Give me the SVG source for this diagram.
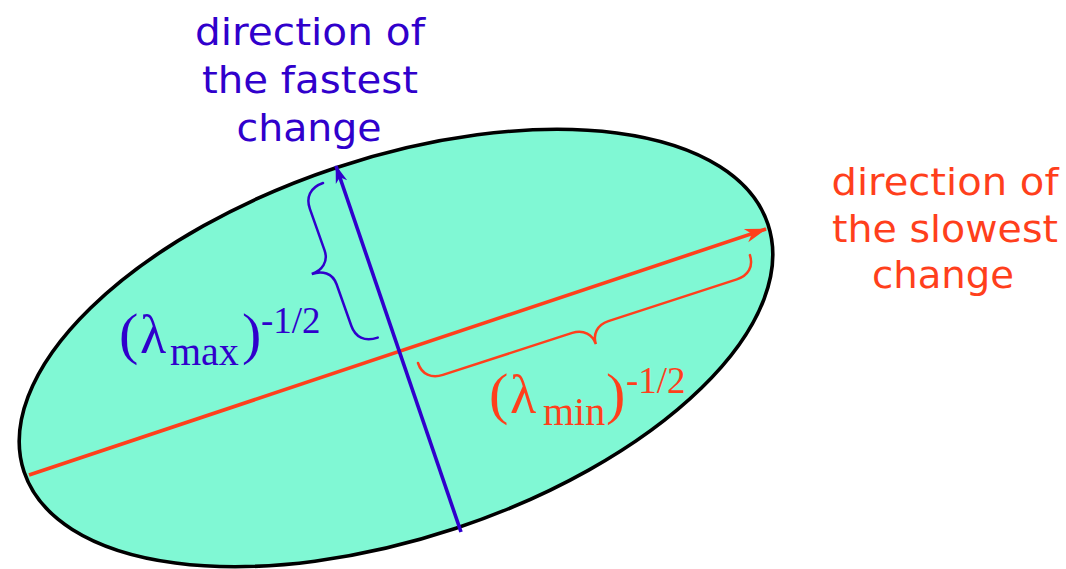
<svg xmlns="http://www.w3.org/2000/svg" width="1066" height="569" viewBox="0 0 1066 569">
<style>
.sans{font-family:"DejaVu Sans","Verdana",sans-serif;font-size:38px;text-anchor:middle}
.serif{font-family:"Liberation Serif","Times New Roman",serif}
.blue{fill:#3000cc}
.red{fill:#ff3f1c}
.brace{fill:none;stroke-width:2.5;stroke-linecap:round}
.axis{fill:none;stroke-width:3.6}
</style>
<defs>
<marker id="arrB" markerUnits="userSpaceOnUse" markerWidth="30" markerHeight="20" refX="0" refY="0" viewBox="-22 -10 24 20" orient="auto" overflow="visible">
<path d="M1,0 L-17,-6 L-12,0 L-17,6 Z" fill="#3000cc"/>
</marker>
<marker id="arrR" markerUnits="userSpaceOnUse" markerWidth="30" markerHeight="20" refX="0" refY="0" viewBox="-22 -10 24 20" orient="auto" overflow="visible">
<path d="M1,0 L-21,-7 L-15,0 L-21,7 Z" fill="#ff3f1c"/>
</marker>
</defs>
<rect width="1066" height="569" fill="#ffffff"/>
<g id="ellipse">
<ellipse cx="396" cy="348" rx="392" ry="190" transform="rotate(-18.4 396 348)" fill="#80f8d4" stroke="#000000" stroke-width="3.6"/>
</g>
<g id="connectors">
<line class="axis" x1="29" y1="475" x2="766" y2="229" stroke="#ff3f1c" marker-end="url(#arrR)"/>
<line class="axis" x1="461" y1="532" x2="336" y2="166" stroke="#3000cc" marker-end="url(#arrB)"/>
</g>
<g id="brace-max">
<path class="brace" stroke="#3000cc" transform="translate(323,183) rotate(70.5)" d="M0,0 C0,14 8,21 20,21 L64,21 C76,21 82,30 82,41 C82,30 88,21 100,21 L144,21 C156,21 164,14 164,0"/>
</g>
<g id="brace-min">
<path class="brace" stroke="#ff3f1c" transform="translate(418,363) rotate(-18)" d="M0,0 C0,12 8,19 20,19 L156,19 C168,19 175,27 175,37 C175,27 182,19 194,19 L329,19 C341,19 349,12 349,0"/>
</g>
<g id="label-fastest" class="sans blue">
<text x="310" y="45" textLength="230" lengthAdjust="spacingAndGlyphs">direction of</text>
<text x="310" y="93" textLength="216" lengthAdjust="spacingAndGlyphs">the fastest</text>
<text x="309" y="141" textLength="145" lengthAdjust="spacingAndGlyphs">change</text>
</g>
<g id="label-slowest" class="sans red">
<text x="945" y="195" textLength="227" lengthAdjust="spacingAndGlyphs">direction of</text>
<text x="945" y="242" textLength="226" lengthAdjust="spacingAndGlyphs">the slowest</text>
<text x="943" y="288" textLength="142" lengthAdjust="spacingAndGlyphs">change</text>
</g>
<g id="label-lambda-max" class="serif blue">
<text x="119" y="353" font-size="58">(</text>
<text x="140" y="353" font-size="54">λ</text>
<text x="170" y="365" font-size="40">max</text>
<text x="242" y="353" font-size="58">)</text>
<text x="261" y="333" font-size="37">-1/2</text>
</g>
<g id="label-lambda-min" class="serif red">
<text x="489" y="413" font-size="58">(</text>
<text x="510" y="413" font-size="54">λ</text>
<text x="543" y="425" font-size="40">min</text>
<text x="606" y="413" font-size="58">)</text>
<text x="626" y="393" font-size="37">-1/2</text>
</g>
</svg>
